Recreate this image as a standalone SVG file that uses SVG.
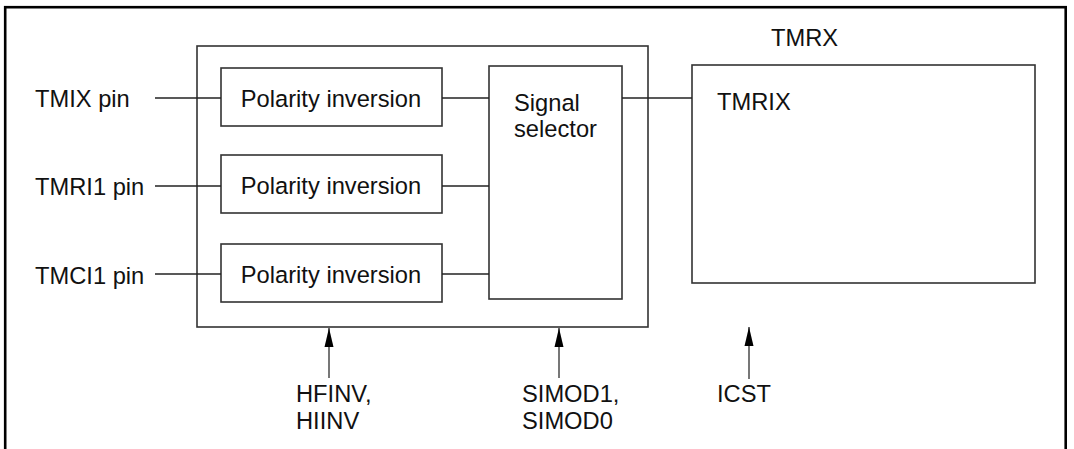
<svg xmlns="http://www.w3.org/2000/svg" width="1074" height="449" viewBox="0 0 1074 449">
<style>
.box{fill:none;stroke:#333;stroke-width:1.6}
.ln{fill:none;stroke:#222;stroke-width:1.4}
.ar{fill:none;stroke:#555;stroke-width:1.6}
text{font-family:"Liberation Sans",Arial,sans-serif;font-size:23.7px;fill:#111}
.c{text-anchor:middle}
</style>
<defs>
<marker id="ah" markerWidth="20" markerHeight="10" refX="20" refY="5" orient="auto" markerUnits="userSpaceOnUse" viewBox="0 0 20 10">
<path d="M1,0.5 L20,5 L1,9.5 Z" fill="#000"/>
</marker>
</defs>
<rect x="5.2" y="7.2" width="1060.5" height="460" fill="none" stroke="#000" stroke-width="2.6"/>
<g id="selector-block">
<rect class="box" x="197" y="46" width="451" height="281"/>
</g>
<g id="pol1"><rect class="box" x="221" y="68" width="221" height="58"/><text class="c" x="331" y="107">Polarity inversion</text></g>
<g id="pol2"><rect class="box" x="221" y="155" width="221" height="58"/><text class="c" x="331" y="194">Polarity inversion</text></g>
<g id="pol3"><rect class="box" x="221" y="244" width="221" height="58"/><text class="c" x="331" y="283">Polarity inversion</text></g>
<g id="sigsel"><rect class="box" x="489" y="66" width="133" height="233"/><text x="514" y="111">Signal</text><text x="514" y="137">selector</text></g>
<g id="tmrx"><text x="771" y="46">TMRX</text></g>
<g id="tmrix"><rect class="box" x="692" y="65" width="343" height="218"/><text x="717" y="110">TMRIX</text></g>
<g id="pins">
<text x="35" y="107">TMIX pin</text>
<text x="35" y="195">TMRI1 pin</text>
<text x="35" y="284">TMCI1 pin</text>
</g>
<g id="labels">
<text x="296" y="402">HFINV,</text><text x="296" y="429">HIINV</text>
<text x="522" y="402">SIMOD1,</text><text x="522" y="429">SIMOD0</text>
<text x="717" y="402">ICST</text>
</g>
<g id="connectors">
<line class="ln" x1="155" y1="98" x2="221" y2="98"/>
<line class="ln" x1="155" y1="186" x2="221" y2="186"/>
<line class="ln" x1="155" y1="274" x2="221" y2="274"/>
<line class="ln" x1="442" y1="98" x2="489" y2="98"/>
<line class="ln" x1="442" y1="186" x2="489" y2="186"/>
<line class="ln" x1="442" y1="274" x2="489" y2="274"/>
<line class="ln" x1="622" y1="98" x2="692" y2="98"/>
<line class="ar" x1="329" y1="378" x2="329" y2="328" marker-end="url(#ah)"/>
<line class="ar" x1="559" y1="378" x2="559" y2="328" marker-end="url(#ah)"/>
<line class="ar" x1="749" y1="379" x2="749" y2="327" marker-end="url(#ah)"/>
</g>
</svg>
